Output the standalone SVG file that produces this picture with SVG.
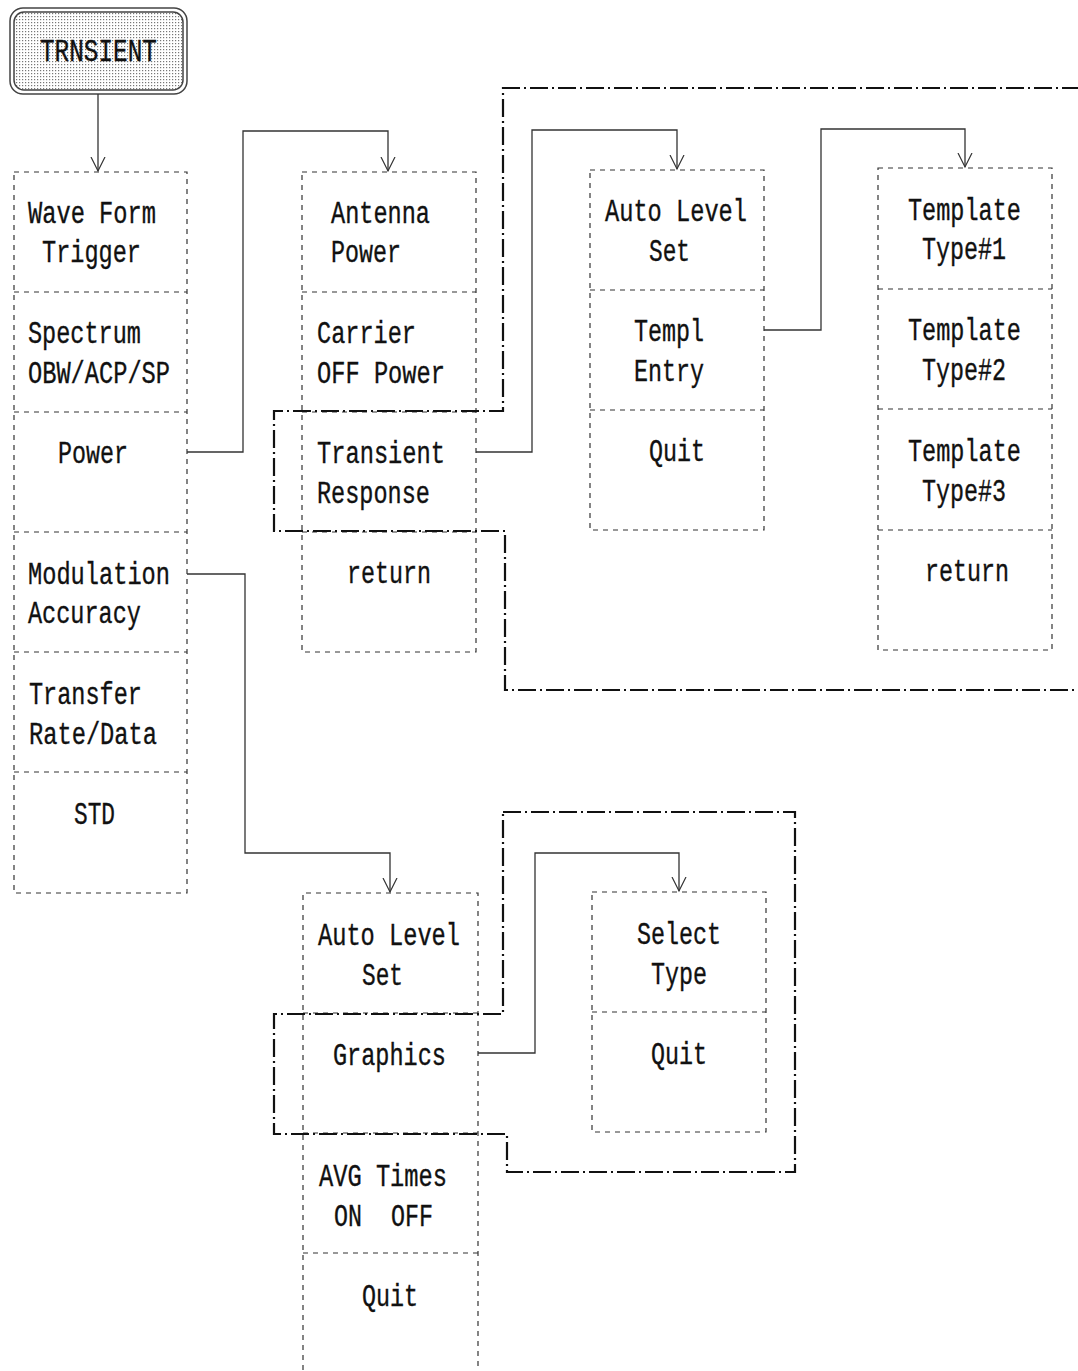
<svg xmlns="http://www.w3.org/2000/svg" width="1078" height="1371" viewBox="0 0 1078 1371">
<style>
.t{font-family:"Liberation Mono","Courier New",monospace;font-size:31px;fill:#111;stroke:#111;stroke-width:0.35}
.box{fill:none;stroke:#333;stroke-width:1.2;stroke-dasharray:5 5}
.div{fill:none;stroke:#333;stroke-width:1.2;stroke-dasharray:5 5}
.con{fill:none;stroke:#333;stroke-width:1.3}
.grp{fill:none;stroke:#111;stroke-width:2.2;stroke-dasharray:18 4 2 4}
</style>
<defs>
<pattern id="dots" width="3" height="3" patternUnits="userSpaceOnUse">
<rect width="3" height="3" fill="#fff"/>
<rect x="1" y="1" width="1.2" height="1.2" fill="#777"/>
</pattern>
<marker id="arr" markerWidth="16" markerHeight="16" refX="14" refY="8" orient="auto" markerUnits="userSpaceOnUse">
<path d="M0,1 L14,8 L0,15" fill="none" stroke="#333" stroke-width="1.2"/>
</marker>
</defs>
<rect width="1078" height="1371" fill="#fff"/>

<g id="root-trnsient">
<rect x="10" y="8" width="177" height="86" rx="13" fill="none" stroke="#444" stroke-width="1.5"/>
<rect x="14" y="12" width="169" height="78" rx="10" fill="url(#dots)" stroke="#444" stroke-width="1.5"/>
<text class="t" x="40" y="61" textLength="117" lengthAdjust="spacingAndGlyphs">TRNSIENT</text>
</g>

<g id="menu-main">
<rect class="box" x="14" y="172" width="173" height="721"/>
<path class="div" d="M14,292H187M14,412H187M14,532H187M14,652H187M14,772H187"/>
<text class="t" x="28" y="223" textLength="128" lengthAdjust="spacingAndGlyphs">Wave Form</text>
<text class="t" x="42" y="262" textLength="99" lengthAdjust="spacingAndGlyphs">Trigger</text>
<text class="t" x="28" y="343" textLength="113" lengthAdjust="spacingAndGlyphs">Spectrum</text>
<text class="t" x="28" y="383" textLength="142" lengthAdjust="spacingAndGlyphs">OBW/ACP/SP</text>
<text class="t" x="58" y="463" textLength="70" lengthAdjust="spacingAndGlyphs">Power</text>
<text class="t" x="28" y="584" textLength="142" lengthAdjust="spacingAndGlyphs">Modulation</text>
<text class="t" x="28" y="623" textLength="113" lengthAdjust="spacingAndGlyphs">Accuracy</text>
<text class="t" x="29" y="704" textLength="113" lengthAdjust="spacingAndGlyphs">Transfer</text>
<text class="t" x="29" y="744" textLength="128" lengthAdjust="spacingAndGlyphs">Rate/Data</text>
<text class="t" x="74" y="824" textLength="41" lengthAdjust="spacingAndGlyphs">STD</text>
</g>

<g id="menu-power">
<rect class="box" x="302" y="172" width="174" height="480"/>
<path class="div" d="M302,292H476M302,412H476M302,532H476"/>
<text class="t" x="331" y="223" textLength="99" lengthAdjust="spacingAndGlyphs">Antenna</text>
<text class="t" x="331" y="262" textLength="70" lengthAdjust="spacingAndGlyphs">Power</text>
<text class="t" x="317" y="343" textLength="99" lengthAdjust="spacingAndGlyphs">Carrier</text>
<text class="t" x="317" y="383" textLength="128" lengthAdjust="spacingAndGlyphs">OFF Power</text>
<text class="t" x="317" y="463" textLength="128" lengthAdjust="spacingAndGlyphs">Transient</text>
<text class="t" x="317" y="503" textLength="113" lengthAdjust="spacingAndGlyphs">Response</text>
<text class="t" x="347" y="583" textLength="84" lengthAdjust="spacingAndGlyphs">return</text>
</g>

<g id="menu-transient">
<rect class="box" x="590" y="170" width="174" height="360"/>
<path class="div" d="M590,290H764M590,410H764"/>
<text class="t" x="605" y="221" textLength="142" lengthAdjust="spacingAndGlyphs">Auto Level</text>
<text class="t" x="649" y="261" textLength="41" lengthAdjust="spacingAndGlyphs">Set</text>
<text class="t" x="634" y="341" textLength="70" lengthAdjust="spacingAndGlyphs">Templ</text>
<text class="t" x="634" y="381" textLength="70" lengthAdjust="spacingAndGlyphs">Entry</text>
<text class="t" x="649" y="461" textLength="56" lengthAdjust="spacingAndGlyphs">Quit</text>
</g>

<g id="menu-template">
<rect class="box" x="878" y="168" width="174" height="482"/>
<path class="div" d="M878,289H1052M878,409H1052M878,530H1052"/>
<text class="t" x="908" y="220" textLength="113" lengthAdjust="spacingAndGlyphs">Template</text>
<text class="t" x="922" y="259" textLength="84" lengthAdjust="spacingAndGlyphs">Type#1</text>
<text class="t" x="908" y="340" textLength="113" lengthAdjust="spacingAndGlyphs">Template</text>
<text class="t" x="922" y="380" textLength="84" lengthAdjust="spacingAndGlyphs">Type#2</text>
<text class="t" x="908" y="461" textLength="113" lengthAdjust="spacingAndGlyphs">Template</text>
<text class="t" x="922" y="501" textLength="84" lengthAdjust="spacingAndGlyphs">Type#3</text>
<text class="t" x="925" y="581" textLength="84" lengthAdjust="spacingAndGlyphs">return</text>
</g>

<g id="menu-modulation">
<path class="box" d="M303,1380V893H478V1380"/>
<path class="div" d="M303,1013H478M303,1133H478M303,1253H478"/>
<text class="t" x="318" y="945" textLength="142" lengthAdjust="spacingAndGlyphs">Auto Level</text>
<text class="t" x="362" y="985" textLength="41" lengthAdjust="spacingAndGlyphs">Set</text>
<text class="t" x="333" y="1065" textLength="113" lengthAdjust="spacingAndGlyphs">Graphics</text>
<text class="t" x="319" y="1186" textLength="128" lengthAdjust="spacingAndGlyphs">AVG Times</text>
<text class="t" x="334" y="1226" textLength="28" lengthAdjust="spacingAndGlyphs">ON</text>
<text class="t" x="391" y="1226" textLength="42" lengthAdjust="spacingAndGlyphs">OFF</text>
<text class="t" x="362" y="1306" textLength="56" lengthAdjust="spacingAndGlyphs">Quit</text>
</g>

<g id="menu-graphics">
<rect class="box" x="592" y="892" width="174" height="240"/>
<path class="div" d="M592,1012H766"/>
<text class="t" x="637" y="944" textLength="84" lengthAdjust="spacingAndGlyphs">Select</text>
<text class="t" x="651" y="984" textLength="56" lengthAdjust="spacingAndGlyphs">Type</text>
<text class="t" x="651" y="1064" textLength="56" lengthAdjust="spacingAndGlyphs">Quit</text>
</g>

<g id="groups">
<path class="grp" d="M1080,88H503V411H274V531H505V690H1080"/>
<path class="grp" d="M503,812H795V1172H507V1134H274V1014H503Z"/>
</g>

<g id="connectors">
<path class="con" d="M98,94V171" marker-end="url(#arr)"/>
<path class="con" d="M187,452H243V131H388V171" marker-end="url(#arr)"/>
<path class="con" d="M187,574H245V853H390V892" marker-end="url(#arr)"/>
<path class="con" d="M476,452H532V130H677V169" marker-end="url(#arr)"/>
<path class="con" d="M764,330H821V129H965V167" marker-end="url(#arr)"/>
<path class="con" d="M478,1053H535V853H679V891" marker-end="url(#arr)"/>
</g>
</svg>
